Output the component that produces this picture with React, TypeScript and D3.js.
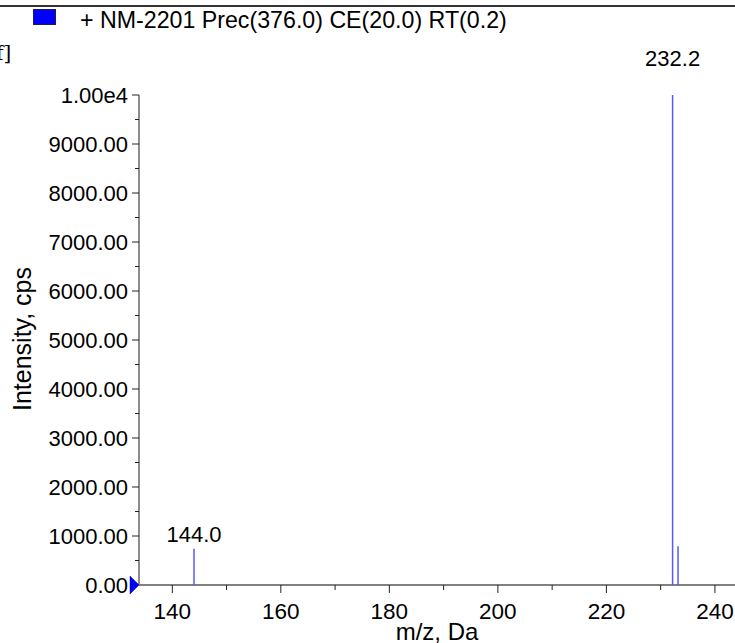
import React from "react";
import * as d3 from "d3";

const legendText = "+ NM-2201 Prec(376.0) CE(20.0) RT(0.2)";
const peakMz = [144.0, 232.2, 233.2];
const peakIntensity = [740, 10000, 790];
const peakLabels = ["144.0", "232.2", ""];
const xMajorTicks = [140, 160, 180, 200, 220, 240];
const xMinorTicks = [150, 170, 190, 210, 230];
const yMajorTicks = [0, 1000, 2000, 3000, 4000, 5000, 6000, 7000, 8000, 9000, 10000];
const yTickLabels = ["0.00", "1000.00", "2000.00", "3000.00", "4000.00", "5000.00", "6000.00", "7000.00", "8000.00", "9000.00", "1.00e4"];
const yMinorTicks = [500, 1500, 2500, 3500, 4500, 5500, 6500, 7500, 8500, 9500];
const xDomain = [133.86, 243.7];
const yDomain = [0, 10000];
const xTitle = "m/z, Da";
const yTitle = "Intensity, cps";

const W = 735;
const H = 643;
const FONT = "'Liberation Sans', Arial, sans-serif";

export default function App() {
  const x = d3.scaleLinear().domain(xDomain).range([139, 735]);
  const y = d3.scaleLinear().domain(yDomain).range([585, 95]);
  const x0 = x(xDomain[0]);
  const y0 = y(0);

  const labelOffset = (v: number) => (v >= 10000 ? 29 : 7);

  return (
    <div style={{ position: "absolute", left: 0, top: 0 }}>
      <svg width={W} height={H} style={{ display: "block", background: "#fff" }}>
        {/* top frame line */}
        <line x1={0} x2={W} y1={6} y2={6} stroke="#333" strokeWidth={2} />
        {/* clipped glyph fragment */}
        <text x={-4} y={60} fontFamily="'DejaVu Serif', serif" fontSize={20} fill="#000">f]</text>
        {/* legend */}
        <rect x={33.5} y={9.5} width={22} height={15} fill="#0000ff" stroke="#202040" strokeWidth={1} />
        <text x={80} y={28} fontFamily={FONT} fontSize={23.2} fill="#000">{legendText}</text>

        {/* y axis */}
        <line x1={x0} x2={x0} y1={y(yDomain[1])} y2={y0} stroke="#808080" strokeWidth={1.8} />
        {yMajorTicks.map((v, i) => (
          <g key={"ym" + v}>
            <line x1={x0 - 7} x2={x0} y1={y(v)} y2={y(v)} stroke="#222" strokeWidth={1} />
            <text x={128} y={y(v)} dy="0.36em" textAnchor="end" fontFamily={FONT} fontSize={22} fill="#000">
              {yTickLabels[i]}
            </text>
          </g>
        ))}
        {yMinorTicks.map((v) => (
          <line key={"yn" + v} x1={x0 - 4} x2={x0} y1={y(v)} y2={y(v)} stroke="#222" strokeWidth={1} />
        ))}

        {/* x axis */}
        <line x1={x0} x2={W} y1={y0} y2={y0} stroke="#808080" strokeWidth={1.8} />
        {xMajorTicks.map((v) => (
          <g key={"xm" + v}>
            <line x1={x(v)} x2={x(v)} y1={y0} y2={y0 + 8} stroke="#222" strokeWidth={1} />
            <text x={x(v)} y={619} textAnchor="middle" fontFamily={FONT} fontSize={22.5} fill="#000">
              {String(v)}
            </text>
          </g>
        ))}
        {xMinorTicks.map((v) => (
          <line key={"xn" + v} x1={x(v)} x2={x(v)} y1={y0} y2={y0 + 5} stroke="#222" strokeWidth={1} />
        ))}

        {/* peaks */}
        {peakMz.map((m, i) => (
          <g key={"p" + i}>
            <line x1={x(m)} x2={x(m)} y1={y0} y2={y(peakIntensity[i])} stroke="#5a5aff" strokeWidth={1.5} />
            {peakLabels[i] && (
              <text x={x(m)} y={y(peakIntensity[i]) - labelOffset(peakIntensity[i])} textAnchor="middle" fontFamily={FONT} fontSize={22} fill="#000">
                {peakLabels[i]}
              </text>
            )}
          </g>
        ))}

        {/* baseline marker */}
        <path d={`M${x0 - 9},${y0 - 9} L${x0},${y0} L${x0 - 9},${y0 + 9} Z`} fill="#0000ff" stroke="#0000aa" strokeWidth={0.5} />

        {/* axis titles */}
        <text x={437} y={640} textAnchor="middle" fontFamily={FONT} fontSize={24} fill="#000">{xTitle}</text>
        <text transform={`translate(31,339) rotate(-90)`} textAnchor="middle" fontFamily={FONT} fontSize={25} fill="#000">{yTitle}</text>
      </svg>
    </div>
  );
}
